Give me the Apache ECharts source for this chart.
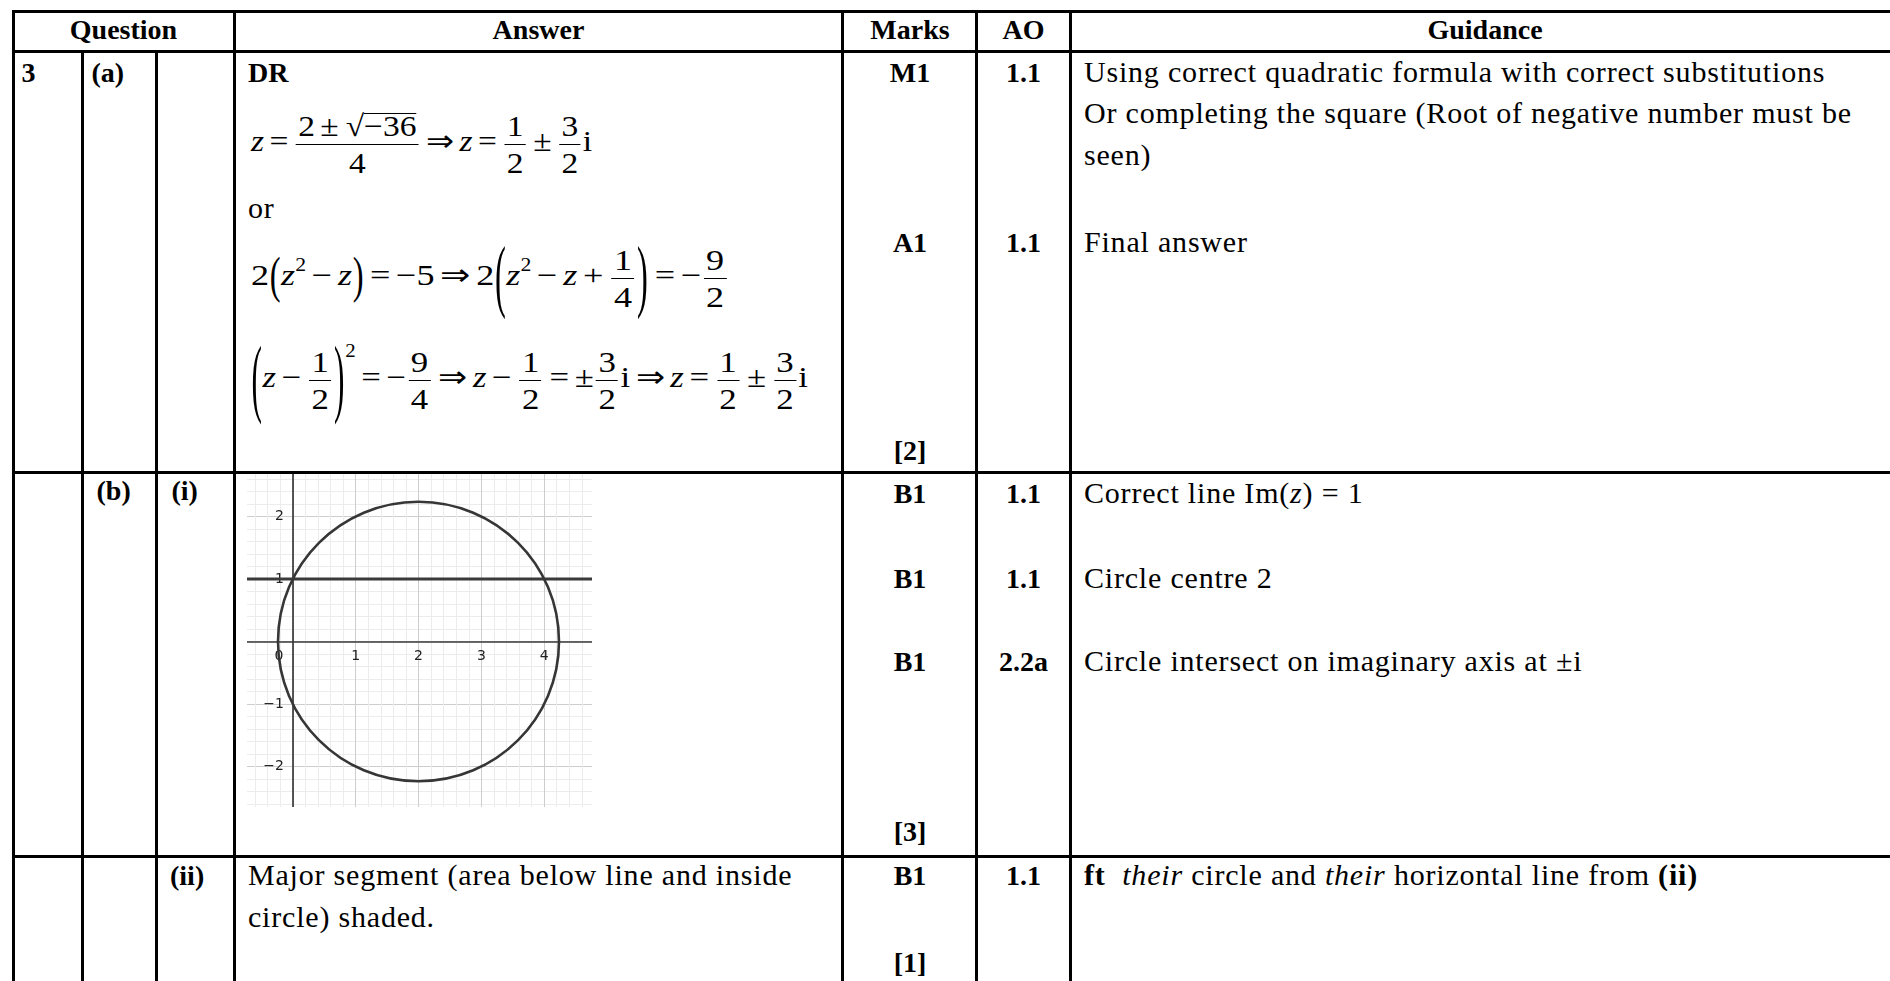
<!DOCTYPE html>
<html>
<head>
<meta charset="utf-8">
<title>Question 3 - mark scheme</title>
<script src="https://cdn.jsdelivr.net/npm/echarts@6.0.0/dist/echarts.min.js"></script>
<style>
  html, body { margin: 0; padding: 0; background: #fff; }
  body {
    width: 1890px; height: 981px; position: relative; overflow: hidden;
    font-family: 'Liberation Serif', 'Times New Roman', serif; color: #000;
  }
  .rule { position: absolute; background: #000; z-index: 5; }
  .t { position: absolute; white-space: nowrap; line-height: 1; }
  .b { font-weight: bold; font-size: 28px; }
  .r { font-size: 30px; letter-spacing: 0.8px; }
  .eq {
    position: absolute; height: 0; display: flex; align-items: center;
    font-size: 30px; white-space: nowrap; transform-origin: 0 0;
  }
  .eq i { font-style: italic; }
  .fr { display: inline-block; vertical-align: middle; text-align: center; margin: 0 2px; }
  .nu, .de { display: block; line-height: 1.18; padding: 0 2px; }
  .de { border-top: 1.5px solid #000; }
  .op { margin: 0 0.16em; }
  .rad { margin-left: 0.05em; }
  .ov { display: inline-block; line-height: 0.8; border-top: 1.5px solid #000; }
  .bp { display: inline-block; line-height: 1; }
  .sp { font-size: 0.6em; line-height: 0; }
  #clip { position: absolute; left: 247px; top: 473px; width: 345px; height: 334px; overflow: hidden; z-index: 1; }
  #plot { position: absolute; left: -16.6px; top: -18.8px; width: 377.4px; height: 375px; }
</style>
</head>
<body>
<div id="clip"><div id="plot"></div></div>
<script>
// ---- sketch for (b)(i): the complex plane ----
var xRange = [-1, 5];
var yRange = [-3, 3];
var xTicks = [0, 1, 2, 3, 4];
var yTicks = [-2, -1, 1, 2];
var circleCentre = [2, 0];
var circleRadius = 2.236;   // |z - 2| = sqrt(5)
var imLine = 1;             // Im(z) = 1

// ---- table text ----
var headerTexts = ['Question', 'Answer', 'Marks', 'AO', 'Guidance'];
var partTexts = ['3', '(a)', '(b)', '(i)', '(ii)'];
var marksTexts = ['M1', 'A1', '[2]', 'B1', 'B1', 'B1', '[3]', 'B1', '[1]'];
var aoTexts = ['1.1', '1.1', '1.1', '1.1', '2.2a', '1.1'];
var answerTexts = ['<b style="font-size:28px;letter-spacing:0">DR</b>', 'or',
  'Major segment (area below line and inside', 'circle) shaded.'];
var guidanceTexts = [
  'Using correct quadratic formula with correct substitutions',
  'Or completing the square (Root of negative number must be',
  'seen)',
  'Final answer',
  'Correct line Im(<i>z</i>) = 1',
  'Circle centre 2',
  'Circle intersect on imaginary axis at \u00b1i',
  '<b>ft</b>&nbsp; <i>their</i> circle and <i>their</i> horizontal line from <b>(ii)</b>'
];

// ---- layout ----
var hRules = [11, 51, 472, 856];
var vRules = [[13, 10], [82.7, 50], [156.7, 50], [234, 10], [842.7, 10], [976.7, 10], [1070, 10]];
var headerX = [123.5, 538.5, 910, 1023.5, 1485], headerBase = 39;
var partPos = [[21.5, 82], [91.5, 82], [96.5, 500], [171.5, 500], [170, 885]];
var marksX = 910, marksBase = [82, 252, 460, 503, 588, 671, 841, 885, 972];
var aoX = 1023.5, aoBase = [82, 252, 503, 588, 671, 885];
var answerPos = [[248, 82], [248, 218], [248, 885], [248, 927]];
var guideX = 1084, guideBase = [82, 123, 165, 252, 503, 588, 671, 885];

function rule(x, y, w, h) {
  var d = document.createElement('div');
  d.className = 'rule';
  d.style.cssText = 'left:' + x + 'px;top:' + y + 'px;width:' + w + 'px;height:' + h + 'px';
  document.body.appendChild(d);
}
hRules.forEach(function (y) { rule(11.5, y - 1.5, 1890, 3); });
vRules.forEach(function (v) { rule(v[0] - 1.5, v[1], 3, 981 - v[1]); });

function put(html, x, base, cls, centre) {
  var d = document.createElement('div');
  d.className = 't ' + cls;
  d.innerHTML = html;
  document.body.appendChild(d);
  var fs = parseFloat(getComputedStyle(d).fontSize);
  d.style.top = (base - 0.8375 * fs) + 'px';
  d.style.left = x + 'px';
  if (centre) d.style.transform = 'translateX(-50%)';
}

headerTexts.forEach(function (s, i) { put(s, headerX[i], headerBase, 'b', true); });
partTexts.forEach(function (s, i) { put(s, partPos[i][0], partPos[i][1], 'b'); });
marksTexts.forEach(function (s, i) { put(s, marksX, marksBase[i], 'b', true); });
aoTexts.forEach(function (s, i) { put(s, aoX, aoBase[i], 'b', true); });
answerTexts.forEach(function (s, i) { put(s, answerPos[i][0], answerPos[i][1], 'r'); });
guidanceTexts.forEach(function (s, i) { put(s, guideX, guideBase[i], 'r'); });

// ---- worked equations for (a) ----
var Z = '<i>z</i>';
function fr(n, d) { return '<span class="fr"><span class="nu">' + n + '</span><span class="de">' + d + '</span></span>'; }
function op(s) { return '<span class="op">' + s + '</span>'; }
function bp(ch, s) { return '<span class="bp" style="transform:scale(0.9,' + s + ')">' + ch + '</span>'; }
function sp(s, up) { return '<sup class="sp" style="vertical-align:' + up + 'px">' + s + '</sup>'; }

var eqLines = [
  Z + op('=') + fr('2' + op('\u00b1') + '<span class="rad">\u221a</span><span class="ov">\u221236</span>', '4') +
    op('\u21d2') + Z + op('=') + fr('1', '2') + op('\u00b1') + fr('3', '2') + 'i',
  '2' + bp('(', 1.7) + Z + sp('2', 14) + op('\u2212') + Z + bp(')', 1.7) + op('=') + '\u22125' + op('\u21d2') +
    '2' + bp('(', 2.65) + Z + sp('2', 14) + op('\u2212') + Z + op('+') + fr('1', '4') + bp(')', 2.65) +
    op('=') + '\u2212' + fr('9', '2'),
  bp('(', 2.9) + Z + op('\u2212') + fr('1', '2') + bp(')', 2.9) + sp('2', 30) + op('=') + '\u2212' + fr('9', '4') +
    op('\u21d2') + Z + op('\u2212') + fr('1', '2') + op('=') + '\u00b1' + fr('3', '2') + 'i' +
    op('\u21d2') + Z + op('=') + fr('1', '2') + op('\u00b1') + fr('3', '2') + 'i'
];
var eqLeft = 251, eqBar = [144, 278, 380], eqWidth = [341, 478, 557];
eqLines.forEach(function (html, i) {
  var d = document.createElement('div');
  d.className = 'eq';
  d.innerHTML = '<span class="eqi">' + html + '</span>';
  d.style.left = eqLeft + 'px';
  d.style.top = eqBar[i] + 'px';
  document.body.appendChild(d);
  var w = d.firstChild.getBoundingClientRect().width;
  d.style.transform = 'scaleX(' + (eqWidth[i] / w) + ')';
});

// ---- the Argand diagram ----
var plot = echarts.init(document.getElementById('plot'));
var tickFont = { color: '#222', fontSize: 14, fontFamily: 'DejaVu Sans' };
function signed(v) { return v < 0 ? '\u2212' + (-v) : String(v); }

function axisCommon(range) {
  return {
    type: 'value', min: range[0], max: range[1], interval: 1,
    axisLine: { onZero: false, lineStyle: { color: '#3a3a3a', width: 1.7 } },
    axisTick: { show: false },
    splitLine: { show: true, lineStyle: { color: '#cdcdcd', width: 1 } },
    minorTick: { show: false, splitNumber: 5 },
    minorSplitLine: { show: true, lineStyle: { color: '#ececec', width: 1 } }
  };
}

var xAxisOpt = axisCommon(xRange);
xAxisOpt.axisLabel = Object.assign({}, tickFont, {
  margin: 8,
  formatter: function (v) {
    if (v === 0) return '{o|0}';
    return xTicks.indexOf(v) >= 0 ? signed(v) : '';
  },
  rich: { o: Object.assign({ padding: [0, 28, 0, 0] }, tickFont) }
});
var yAxisOpt = axisCommon(yRange);
yAxisOpt.axisLabel = Object.assign({}, tickFont, {
  margin: 9,
  formatter: function (v) { return yTicks.indexOf(v) >= 0 ? signed(v) : ''; }
});

plot.setOption({
  animation: false,
  grid: { left: 0, right: 0, top: 0, bottom: 0, containLabel: false, outerBoundsMode: 'none' },
  xAxis: xAxisOpt,
  yAxis: yAxisOpt,
  series: [
    {
      name: 'Im(z) = 1',
      type: 'line',
      data: [[xRange[0], imLine], [xRange[1], imLine]],
      symbol: 'none',
      silent: true,
      lineStyle: { color: '#3a3a3a', width: 3 },
      z: 3
    },
    {
      name: '|z - 2| = r',
      type: 'custom',
      data: [[circleCentre[0], circleCentre[1], circleRadius]],
      encode: { x: 0, y: 1 },
      silent: true,
      clip: false,
      renderItem: function (params, api) {
        var c = api.coord([api.value(0), api.value(1)]);
        var s = api.size([api.value(2), api.value(2)]);
        return {
          type: 'ellipse',
          shape: { cx: c[0], cy: c[1], rx: s[0], ry: s[1] },
          style: { fill: null, stroke: '#363636', lineWidth: 2.6 }
        };
      },
      z: 4
    }
  ]
});

// move both axes (line and labels) onto the origin
var origin = plot.convertToPixel({ gridIndex: 0 }, [0, 0]);
plot.setOption({
  xAxis: { offset: origin[1] - plot.getHeight() },
  yAxis: { offset: -origin[0] }
});
</script>
</body>
</html>
